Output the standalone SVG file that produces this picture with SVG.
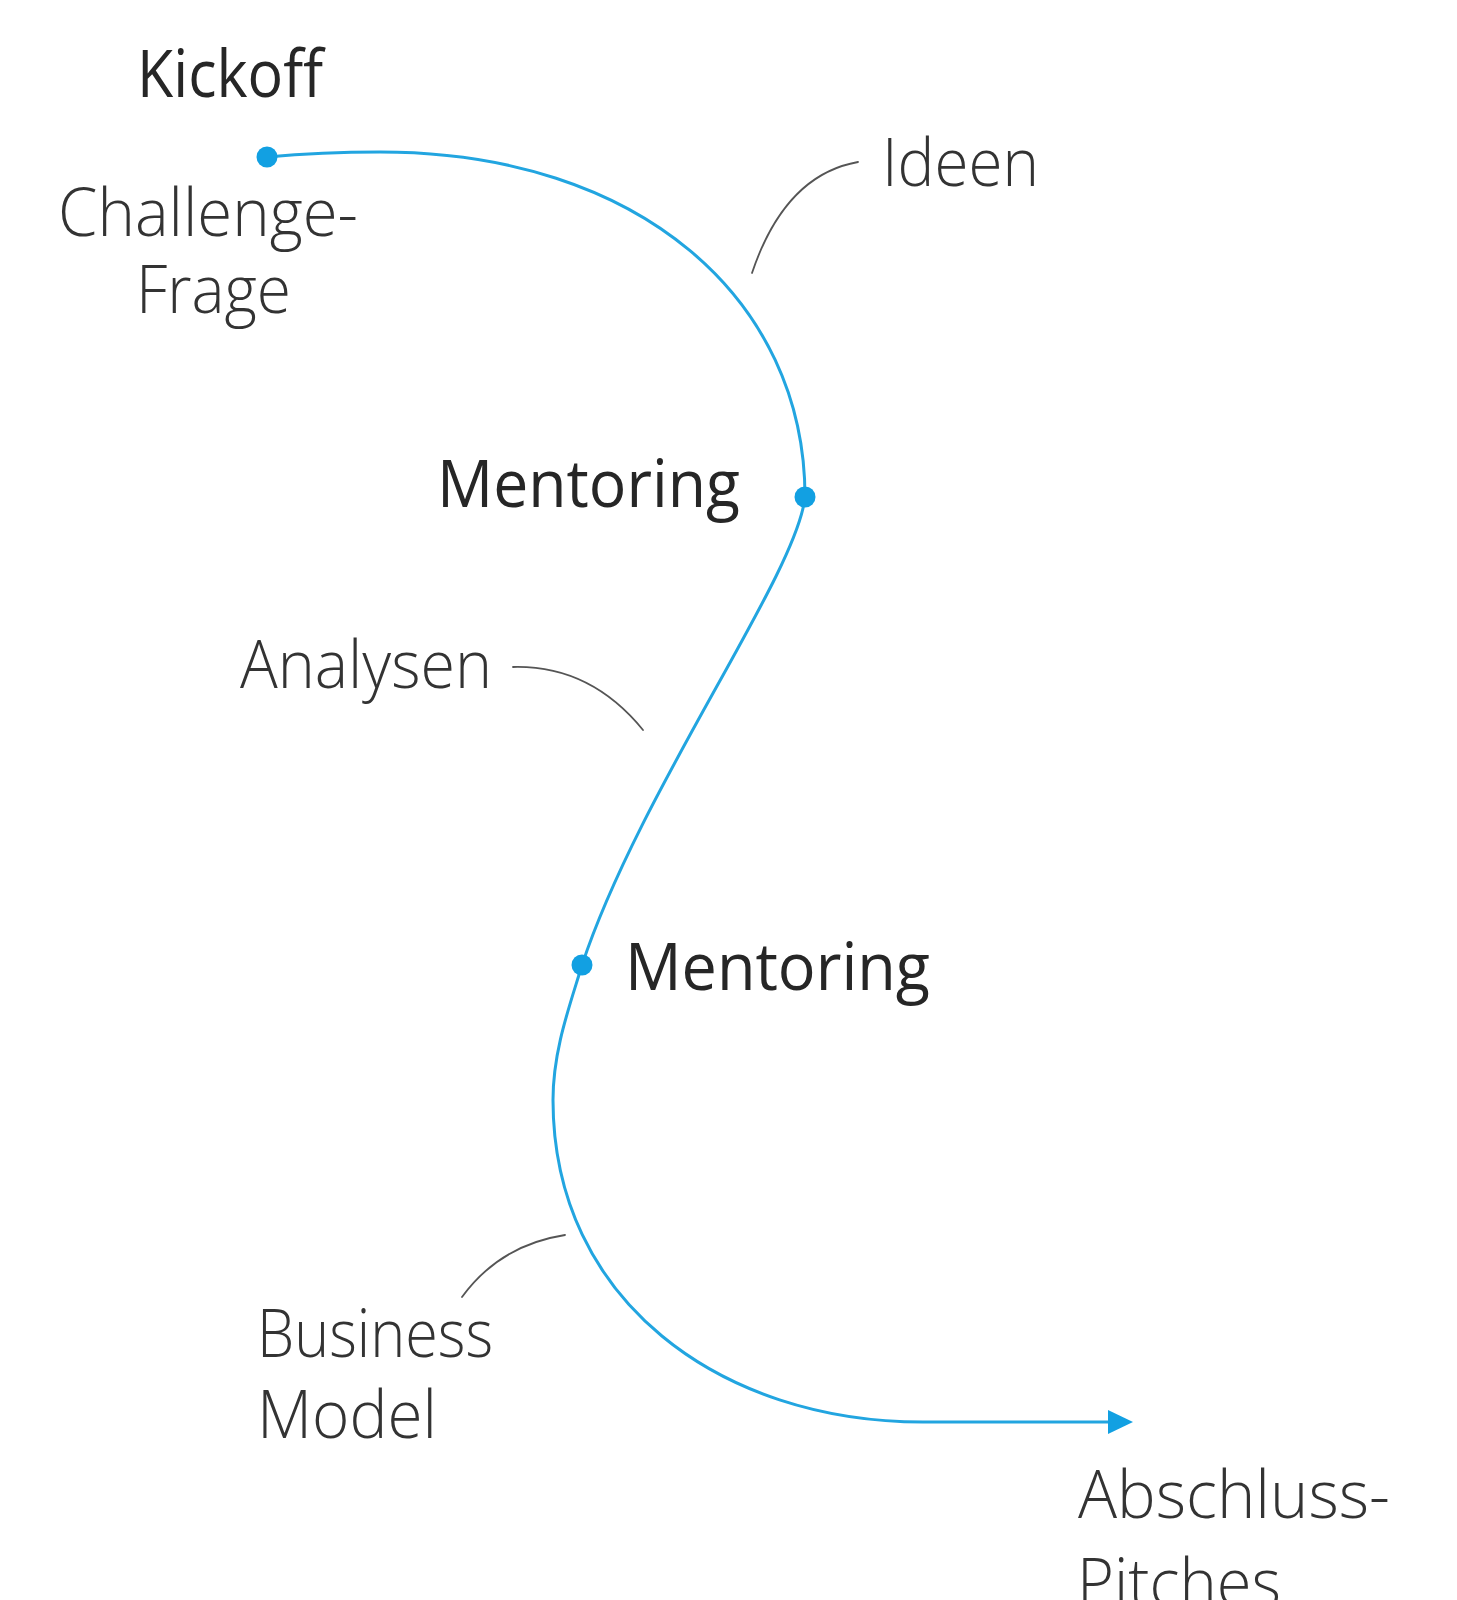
<svg xmlns="http://www.w3.org/2000/svg" width="1457" height="1600" viewBox="0 0 1457 1600">
<style>
.lbl{font-family:"Open Sans","Noto Sans","Liberation Sans",sans-serif;font-size:66px;fill:#333333;font-weight:300}
.strong{font-weight:400;fill:#262626}
.path{fill:none;stroke:#22a5e0;stroke-width:3;stroke-linecap:round}
.lead{fill:none;stroke:#555555;stroke-width:1.8;stroke-linecap:round}
.dot{fill:#12a0e2}
</style>
<defs>
<marker id="arr" viewBox="0 0 25 24" refX="0" refY="12" markerWidth="25" markerHeight="24" markerUnits="userSpaceOnUse" orient="auto">
<path d="M0,0 L25,12 L0,24 Z" fill="#12a0e2"/>
</marker>
</defs>
<rect width="1457" height="1600" fill="#ffffff"/>
<g id="connectors">
<path class="path" d="M267,157 C300,154 340,152 380,152 C640,152 805,300 805,497 C797,575 640,790 582,965 C570,1005 553,1050 553,1100 C553,1300 720,1422 923,1422 L1108,1422" marker-end="url(#arr)"/>
<path class="lead" d="M858,162 Q785,175 752,273"/>
<path class="lead" d="M513,667 Q590,665 643,730"/>
<path class="lead" d="M565,1235 Q500,1245 462,1297"/>
</g>
<g id="kickoff">
<circle class="dot" cx="267" cy="157" r="10.5"/>
<text class="lbl strong" x="137" y="97" textLength="186" lengthAdjust="spacingAndGlyphs">Kickoff</text>
<text class="lbl" x="58" y="236" textLength="300" lengthAdjust="spacingAndGlyphs">Challenge-</text>
<text class="lbl" x="136" y="313" textLength="155" lengthAdjust="spacingAndGlyphs">Frage</text>
</g>
<g id="ideen">
<text class="lbl" x="882" y="186" textLength="157" lengthAdjust="spacingAndGlyphs">Ideen</text>
</g>
<g id="mentoring1">
<circle class="dot" cx="805" cy="497" r="10.5"/>
<text class="lbl strong" x="437" y="507" textLength="303" lengthAdjust="spacingAndGlyphs">Mentoring</text>
</g>
<g id="analysen">
<text class="lbl" x="240" y="688" textLength="252" lengthAdjust="spacingAndGlyphs">Analysen</text>
</g>
<g id="mentoring2">
<circle class="dot" cx="582" cy="965" r="10.5"/>
<text class="lbl strong" x="625" y="990" textLength="305" lengthAdjust="spacingAndGlyphs">Mentoring</text>
</g>
<g id="business">
<text class="lbl" x="257" y="1357" textLength="236" lengthAdjust="spacingAndGlyphs">Business</text>
<text class="lbl" x="257" y="1438" textLength="180" lengthAdjust="spacingAndGlyphs">Model</text>
</g>
<g id="abschluss">
<text class="lbl" x="1078" y="1518" textLength="312" lengthAdjust="spacingAndGlyphs">Abschluss-</text>
<text class="lbl" x="1077" y="1606" textLength="204" lengthAdjust="spacingAndGlyphs">Pitches</text>
</g>
</svg>
